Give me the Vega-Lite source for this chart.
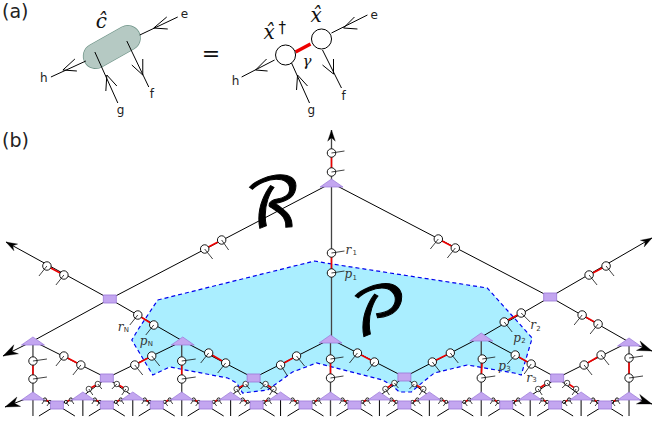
{"$schema":"https://vega.github.io/schema/vega-lite/v6.json","width":653,"height":426,"padding":0,"autosize":{"type":"fit","contains":"padding"},"background":"white","config":{"axis":{"disable":true},"view":{"stroke":null}},
"datasets":{
"region":[{"i":1,"x":158,"y":300},{"i":2,"x":315,"y":261},{"i":3,"x":326,"y":263},{"i":4,"x":488,"y":288},{"i":5,"x":533,"y":338},{"i":6,"x":522,"y":375},{"i":7,"x":515,"y":373},{"i":8,"x":468,"y":365},{"i":9,"x":435,"y":373},{"i":10,"x":420,"y":385},{"i":11,"x":412,"y":392},{"i":12,"x":400,"y":392},{"i":13,"x":392,"y":385},{"i":14,"x":383,"y":380},{"i":15,"x":317,"y":363},{"i":16,"x":293,"y":372},{"i":17,"x":268,"y":390},{"i":18,"x":243,"y":393},{"i":19,"x":237,"y":383},{"i":20,"x":228,"y":378},{"i":21,"x":170,"y":367},{"i":22,"x":153,"y":375},{"i":23,"x":132,"y":340},{"i":24,"x":138,"y":330},{"i":25,"x":158,"y":300}],
"block":[{"x":96,"y":56,"x2":128,"y2":38}],
"seg":[
{"x":51,"y":77,"x2":86,"y2":61,"k":"b"},{"x":63,"y":70,"x2":75,"y2":59,"k":"b"},{"x":63,"y":70,"x2":77,"y2":71,"k":"b"},
{"x":178,"y":17,"x2":140,"y2":35,"k":"b"},{"x":154,"y":28,"x2":167,"y2":17,"k":"b"},{"x":154,"y":28,"x2":168,"y2":29,"k":"b"},
{"x":118,"y":103,"x2":95,"y2":52,"k":"b"},{"x":107,"y":75,"x2":106,"y2":91,"k":"b"},{"x":107,"y":75,"x2":117,"y2":86,"k":"b"},
{"x":149,"y":87,"x2":127,"y2":41,"k":"b"},{"x":143,"y":75,"x2":132,"y2":65,"k":"b"},{"x":143,"y":75,"x2":143,"y2":59,"k":"b"},
{"x":242,"y":77,"x2":275,"y2":60,"k":"b"},{"x":256,"y":70,"x2":267,"y2":59,"k":"b"},{"x":256,"y":70,"x2":268,"y2":71,"k":"b"},
{"x":368,"y":15,"x2":332,"y2":33,"k":"b"},{"x":344,"y":28,"x2":355,"y2":17,"k":"b"},{"x":344,"y":28,"x2":358,"y2":29,"k":"b"},
{"x":310,"y":103,"x2":292,"y2":63,"k":"b"},{"x":298,"y":75,"x2":297,"y2":90,"k":"b"},{"x":298,"y":75,"x2":308,"y2":86,"k":"b"},
{"x":342,"y":88,"x2":323,"y2":50,"k":"b"},{"x":334,"y":74,"x2":323,"y2":65,"k":"b"},{"x":334,"y":74,"x2":334,"y2":59,"k":"b"},
{"x":332,"y":183,"x2":551,"y2":297,"k":"b"},{"x":332,"y":183,"x2":110,"y2":299,"k":"b"},
{"x":110,"y":299,"x2":6,"y2":242,"k":"b"},{"x":551,"y":297,"x2":653,"y2":238,"k":"b"},
{"x":110,"y":299,"x2":33,"y2":341,"k":"b"},{"x":110,"y":299,"x2":183,"y2":341,"k":"b"},{"x":551,"y":297,"x2":482,"y2":337,"k":"b"},{"x":551,"y":297,"x2":630,"y2":342,"k":"b"},
{"x":33,"y":341,"x2":3,"y2":356,"k":"b"},{"x":630,"y":342,"x2":653,"y2":351,"k":"b"},{"x":33,"y":396,"x2":5,"y2":407,"k":"b"},{"x":630,"y":396,"x2":653,"y2":404,"k":"b"},
{"x":33,"y":341,"x2":107,"y2":378,"k":"b"},{"x":183,"y":341,"x2":107,"y2":378,"k":"b"},{"x":183,"y":341,"x2":254,"y2":378,"k":"b"},{"x":331,"y":339,"x2":254,"y2":378,"k":"b"},{"x":331,"y":339,"x2":405,"y2":377,"k":"b"},{"x":482,"y":337,"x2":405,"y2":377,"k":"b"},{"x":482,"y":337,"x2":558,"y2":378,"k":"b"},{"x":630,"y":342,"x2":558,"y2":378,"k":"b"},
{"x":107,"y":378,"x2":83,"y2":396,"k":"b"},{"x":107,"y":378,"x2":133,"y2":396,"k":"b"},{"x":254,"y":378,"x2":231,"y2":396,"k":"b"},{"x":254,"y":378,"x2":281,"y2":396,"k":"b"},{"x":405,"y":377,"x2":380,"y2":396,"k":"b"},{"x":405,"y":377,"x2":430,"y2":396,"k":"b"},{"x":558,"y":378,"x2":531,"y2":396,"k":"b"},{"x":558,"y":378,"x2":582,"y2":396,"k":"b"},
{"x":33,"y":396,"x2":57,"y2":405,"k":"b"},{"x":83,"y":396,"x2":57,"y2":405,"k":"b"},{"x":83,"y":396,"x2":107,"y2":405,"k":"b"},{"x":133,"y":396,"x2":107,"y2":405,"k":"b"},{"x":133,"y":396,"x2":157,"y2":405,"k":"b"},{"x":182,"y":396,"x2":157,"y2":405,"k":"b"},{"x":182,"y":396,"x2":206,"y2":405,"k":"b"},{"x":231,"y":396,"x2":206,"y2":405,"k":"b"},{"x":231,"y":396,"x2":257,"y2":405,"k":"b"},{"x":281,"y":396,"x2":257,"y2":405,"k":"b"},{"x":281,"y":396,"x2":306,"y2":405,"k":"b"},{"x":331,"y":396,"x2":306,"y2":405,"k":"b"},{"x":331,"y":396,"x2":355,"y2":405,"k":"b"},{"x":380,"y":396,"x2":355,"y2":405,"k":"b"},{"x":380,"y":396,"x2":405,"y2":405,"k":"b"},{"x":430,"y":396,"x2":405,"y2":405,"k":"b"},{"x":430,"y":396,"x2":456,"y2":405,"k":"b"},{"x":482,"y":396,"x2":456,"y2":405,"k":"b"},{"x":482,"y":396,"x2":507,"y2":405,"k":"b"},{"x":531,"y":396,"x2":507,"y2":405,"k":"b"},{"x":531,"y":396,"x2":556,"y2":405,"k":"b"},{"x":582,"y":396,"x2":556,"y2":405,"k":"b"},{"x":582,"y":396,"x2":606,"y2":405,"k":"b"},{"x":630,"y":396,"x2":606,"y2":405,"k":"b"},
{"x":83,"y":396,"x2":83,"y2":416,"k":"b"},{"x":133,"y":396,"x2":133,"y2":416,"k":"b"},{"x":231,"y":396,"x2":231,"y2":416,"k":"b"},{"x":281,"y":396,"x2":281,"y2":416,"k":"b"},{"x":380,"y":396,"x2":380,"y2":416,"k":"b"},{"x":430,"y":396,"x2":430,"y2":416,"k":"b"},{"x":531,"y":396,"x2":531,"y2":416,"k":"b"},{"x":582,"y":396,"x2":582,"y2":416,"k":"b"},
{"x":52,"y":408,"x2":39,"y2":416,"k":"b"},{"x":62,"y":408,"x2":75,"y2":416,"k":"b"},{"x":102,"y":408,"x2":89,"y2":416,"k":"b"},{"x":112,"y":408,"x2":125,"y2":416,"k":"b"},{"x":152,"y":408,"x2":139,"y2":416,"k":"b"},{"x":162,"y":408,"x2":175,"y2":416,"k":"b"},{"x":201,"y":408,"x2":188,"y2":416,"k":"b"},{"x":211,"y":408,"x2":224,"y2":416,"k":"b"},{"x":252,"y":408,"x2":239,"y2":416,"k":"b"},{"x":262,"y":408,"x2":275,"y2":416,"k":"b"},{"x":301,"y":408,"x2":288,"y2":416,"k":"b"},{"x":311,"y":408,"x2":324,"y2":416,"k":"b"},{"x":350,"y":408,"x2":337,"y2":416,"k":"b"},{"x":360,"y":408,"x2":373,"y2":416,"k":"b"},{"x":400,"y":408,"x2":387,"y2":416,"k":"b"},{"x":410,"y":408,"x2":423,"y2":416,"k":"b"},{"x":451,"y":408,"x2":438,"y2":416,"k":"b"},{"x":461,"y":408,"x2":474,"y2":416,"k":"b"},{"x":502,"y":408,"x2":489,"y2":416,"k":"b"},{"x":512,"y":408,"x2":525,"y2":416,"k":"b"},{"x":551,"y":408,"x2":538,"y2":416,"k":"b"},{"x":561,"y":408,"x2":574,"y2":416,"k":"b"},{"x":601,"y":408,"x2":588,"y2":416,"k":"b"},{"x":611,"y":408,"x2":624,"y2":416,"k":"b"},
{"x":332,"y":183,"x2":332,"y2":130,"k":"g"},{"x":332,"y":183,"x2":332,"y2":339,"k":"g"},{"x":331,"y":339,"x2":331,"y2":416,"k":"g"},{"x":33,"y":341,"x2":33,"y2":416,"k":"g"},{"x":182,"y":341,"x2":182,"y2":416,"k":"g"},{"x":482,"y":337,"x2":482,"y2":416,"k":"g"},{"x":630,"y":342,"x2":630,"y2":416,"k":"g"},
{"x":332,"y":153,"x2":332,"y2":172,"k":"r"},{"x":332,"y":253,"x2":332,"y2":273,"k":"r"},{"x":205,"y":249,"x2":222,"y2":240,"k":"r"},{"x":439,"y":239,"x2":456,"y2":248,"k":"r"},{"x":47,"y":266,"x2":64,"y2":275,"k":"r"},{"x":607,"y":266,"x2":590,"y2":275,"k":"r"},{"x":138,"y":315,"x2":154,"y2":325,"k":"r"},{"x":522,"y":313,"x2":505,"y2":322,"k":"r"},{"x":583,"y":315,"x2":599,"y2":324,"k":"r"},
{"x":33,"y":361,"x2":33,"y2":379,"k":"r"},{"x":64,"y":356,"x2":81,"y2":365,"k":"r"},{"x":135,"y":365,"x2":152,"y2":356,"k":"r"},{"x":182,"y":361,"x2":182,"y2":379,"k":"r"},{"x":209,"y":353,"x2":226,"y2":363,"k":"r"},{"x":281,"y":365,"x2":297,"y2":356,"k":"r"},{"x":331,"y":359,"x2":331,"y2":378,"k":"r"},{"x":358,"y":353,"x2":375,"y2":362,"k":"r"},{"x":433,"y":362,"x2":451,"y2":353,"k":"r"},{"x":483,"y":359,"x2":482,"y2":378,"k":"r"},{"x":516,"y":355,"x2":532,"y2":364,"k":"r"},{"x":585,"y":365,"x2":602,"y2":355,"k":"r"},{"x":630,"y":358,"x2":630,"y2":378,"k":"r"},
{"x":98,"y":384,"x2":89,"y2":389,"k":"r"},{"x":117,"y":384,"x2":126,"y2":389,"k":"r"},{"x":246,"y":384,"x2":237,"y2":389,"k":"r"},{"x":266,"y":384,"x2":274,"y2":389,"k":"r"},{"x":395,"y":383,"x2":386,"y2":389,"k":"r"},{"x":415,"y":384,"x2":424,"y2":389,"k":"r"},{"x":548,"y":383,"x2":539,"y2":389,"k":"r"},{"x":568,"y":383,"x2":577,"y2":389,"k":"r"},
{"x":45,"y":399.5,"x2":50,"y2":402,"k":"r"},{"x":71,"y":399.5,"x2":66,"y2":402,"k":"r"},{"x":95,"y":399.5,"x2":100,"y2":402,"k":"r"},{"x":121,"y":399.5,"x2":116,"y2":402,"k":"r"},{"x":145,"y":399.5,"x2":150,"y2":402,"k":"r"},{"x":170,"y":399.5,"x2":165,"y2":402,"k":"r"},{"x":194,"y":399.5,"x2":199,"y2":402,"k":"r"},{"x":219,"y":399.5,"x2":214,"y2":402,"k":"r"},{"x":243,"y":399.5,"x2":248,"y2":402,"k":"r"},{"x":269,"y":399.5,"x2":264,"y2":402,"k":"r"},{"x":293,"y":399.5,"x2":298,"y2":402,"k":"r"},{"x":319,"y":399.5,"x2":314,"y2":402,"k":"r"},{"x":343,"y":399.5,"x2":348,"y2":402,"k":"r"},{"x":368,"y":399.5,"x2":363,"y2":402,"k":"r"},{"x":392,"y":399.5,"x2":397,"y2":402,"k":"r"},{"x":418,"y":399.5,"x2":413,"y2":402,"k":"r"},{"x":442,"y":399.5,"x2":447,"y2":402,"k":"r"},{"x":470,"y":399.5,"x2":465,"y2":402,"k":"r"},{"x":494,"y":399.5,"x2":499,"y2":402,"k":"r"},{"x":519,"y":399.5,"x2":514,"y2":402,"k":"r"},{"x":543,"y":399.5,"x2":548,"y2":402,"k":"r"},{"x":570,"y":399.5,"x2":565,"y2":402,"k":"r"},{"x":594,"y":399.5,"x2":599,"y2":402,"k":"r"},{"x":618,"y":399.5,"x2":613,"y2":402,"k":"r"},
{"x":296,"y":52,"x2":311,"y2":44,"k":"R"}
],
"nodes":[
{"x":286,"y":55,"x2":286,"y2":55,"s":"E"},{"x":322,"y":39,"x2":322,"y2":39,"s":"E"},
{"x":332,"y":153,"x2":345,"y2":151,"s":"A"},{"x":332,"y":172,"x2":345,"y2":170,"s":"A"},{"x":332,"y":253,"x2":345,"y2":251,"s":"A"},{"x":332,"y":273,"x2":345,"y2":271,"s":"A"},{"x":205,"y":249,"x2":213,"y2":259,"s":"A"},{"x":222,"y":240,"x2":229,"y2":250,"s":"A"},{"x":439,"y":239,"x2":431,"y2":249,"s":"A"},{"x":456,"y":248,"x2":448,"y2":258,"s":"A"},{"x":47,"y":266,"x2":39,"y2":276,"s":"A"},{"x":64,"y":275,"x2":56,"y2":285,"s":"A"},{"x":607,"y":266,"x2":615,"y2":276,"s":"A"},{"x":590,"y":275,"x2":598,"y2":285,"s":"A"},{"x":138,"y":315,"x2":130,"y2":325,"s":"A"},{"x":154,"y":325,"x2":146,"y2":335,"s":"A"},{"x":522,"y":313,"x2":531,"y2":322,"s":"A"},{"x":505,"y":322,"x2":513,"y2":332,"s":"A"},{"x":583,"y":315,"x2":575,"y2":325,"s":"A"},{"x":599,"y":324,"x2":591,"y2":334,"s":"A"},
{"x":33,"y":361,"x2":47,"y2":359,"s":"B"},{"x":33,"y":379,"x2":47,"y2":377,"s":"B"},{"x":64,"y":356,"x2":56,"y2":366,"s":"B"},{"x":81,"y":365,"x2":73,"y2":375,"s":"B"},{"x":135,"y":365,"x2":143,"y2":375,"s":"B"},{"x":152,"y":356,"x2":160,"y2":366,"s":"B"},{"x":182,"y":361,"x2":196,"y2":359,"s":"B"},{"x":182,"y":379,"x2":196,"y2":377,"s":"B"},{"x":209,"y":353,"x2":201,"y2":363,"s":"B"},{"x":226,"y":363,"x2":218,"y2":373,"s":"B"},{"x":281,"y":365,"x2":288,"y2":376,"s":"B"},{"x":297,"y":356,"x2":305,"y2":366,"s":"B"},{"x":331,"y":359,"x2":344,"y2":357,"s":"B"},{"x":331,"y":378,"x2":344,"y2":376,"s":"B"},{"x":358,"y":353,"x2":350,"y2":363,"s":"B"},{"x":375,"y":362,"x2":368,"y2":371,"s":"B"},{"x":433,"y":362,"x2":441,"y2":372,"s":"B"},{"x":451,"y":353,"x2":459,"y2":363,"s":"B"},{"x":483,"y":359,"x2":496,"y2":357,"s":"B"},{"x":482,"y":378,"x2":496,"y2":376,"s":"B"},{"x":516,"y":355,"x2":508,"y2":364,"s":"B"},{"x":532,"y":364,"x2":525,"y2":374,"s":"B"},{"x":585,"y":365,"x2":593,"y2":375,"s":"B"},{"x":602,"y":355,"x2":610,"y2":365,"s":"B"},{"x":630,"y":358,"x2":644,"y2":356,"s":"B"},{"x":630,"y":378,"x2":644,"y2":376,"s":"B"},
{"x":98,"y":384,"x2":102,"y2":389,"s":"C"},{"x":89,"y":389,"x2":93,"y2":395,"s":"C"},{"x":117,"y":384,"x2":112,"y2":389,"s":"C"},{"x":126,"y":389,"x2":122,"y2":395,"s":"C"},{"x":246,"y":384,"x2":250,"y2":389,"s":"C"},{"x":237,"y":389,"x2":241,"y2":395,"s":"C"},{"x":266,"y":384,"x2":261,"y2":389,"s":"C"},{"x":274,"y":389,"x2":270,"y2":395,"s":"C"},{"x":395,"y":383,"x2":399,"y2":388,"s":"C"},{"x":386,"y":389,"x2":390,"y2":395,"s":"C"},{"x":415,"y":384,"x2":410,"y2":389,"s":"C"},{"x":424,"y":389,"x2":420,"y2":395,"s":"C"},{"x":548,"y":383,"x2":552,"y2":388,"s":"C"},{"x":539,"y":389,"x2":543,"y2":395,"s":"C"},{"x":568,"y":383,"x2":563,"y2":388,"s":"C"},{"x":577,"y":389,"x2":573,"y2":395,"s":"C"},
{"x":45,"y":399.5,"x2":42,"y2":404,"s":"D"},{"x":50,"y":402,"x2":47,"y2":406,"s":"D"},{"x":71,"y":399.5,"x2":74,"y2":404,"s":"D"},{"x":66,"y":402,"x2":69,"y2":406,"s":"D"},{"x":95,"y":399.5,"x2":92,"y2":404,"s":"D"},{"x":100,"y":402,"x2":97,"y2":406,"s":"D"},{"x":121,"y":399.5,"x2":124,"y2":404,"s":"D"},{"x":116,"y":402,"x2":119,"y2":406,"s":"D"},{"x":145,"y":399.5,"x2":142,"y2":404,"s":"D"},{"x":150,"y":402,"x2":147,"y2":406,"s":"D"},{"x":170,"y":399.5,"x2":173,"y2":404,"s":"D"},{"x":165,"y":402,"x2":168,"y2":406,"s":"D"},{"x":194,"y":399.5,"x2":191,"y2":404,"s":"D"},{"x":199,"y":402,"x2":196,"y2":406,"s":"D"},{"x":219,"y":399.5,"x2":222,"y2":404,"s":"D"},{"x":214,"y":402,"x2":217,"y2":406,"s":"D"},{"x":243,"y":399.5,"x2":240,"y2":404,"s":"D"},{"x":248,"y":402,"x2":245,"y2":406,"s":"D"},{"x":269,"y":399.5,"x2":272,"y2":404,"s":"D"},{"x":264,"y":402,"x2":267,"y2":406,"s":"D"},{"x":293,"y":399.5,"x2":290,"y2":404,"s":"D"},{"x":298,"y":402,"x2":295,"y2":406,"s":"D"},{"x":319,"y":399.5,"x2":322,"y2":404,"s":"D"},{"x":314,"y":402,"x2":317,"y2":406,"s":"D"},{"x":343,"y":399.5,"x2":340,"y2":404,"s":"D"},{"x":348,"y":402,"x2":345,"y2":406,"s":"D"},{"x":368,"y":399.5,"x2":371,"y2":404,"s":"D"},{"x":363,"y":402,"x2":366,"y2":406,"s":"D"},{"x":392,"y":399.5,"x2":389,"y2":404,"s":"D"},{"x":397,"y":402,"x2":394,"y2":406,"s":"D"},{"x":418,"y":399.5,"x2":421,"y2":404,"s":"D"},{"x":413,"y":402,"x2":416,"y2":406,"s":"D"},{"x":442,"y":399.5,"x2":439,"y2":404,"s":"D"},{"x":447,"y":402,"x2":444,"y2":406,"s":"D"},{"x":470,"y":399.5,"x2":473,"y2":404,"s":"D"},{"x":465,"y":402,"x2":468,"y2":406,"s":"D"},{"x":494,"y":399.5,"x2":491,"y2":404,"s":"D"},{"x":499,"y":402,"x2":496,"y2":406,"s":"D"},{"x":519,"y":399.5,"x2":522,"y2":404,"s":"D"},{"x":514,"y":402,"x2":517,"y2":406,"s":"D"},{"x":543,"y":399.5,"x2":540,"y2":404,"s":"D"},{"x":548,"y":402,"x2":545,"y2":406,"s":"D"},{"x":570,"y":399.5,"x2":573,"y2":404,"s":"D"},{"x":565,"y":402,"x2":568,"y2":406,"s":"D"},{"x":594,"y":399.5,"x2":591,"y2":404,"s":"D"},{"x":599,"y":402,"x2":596,"y2":406,"s":"D"},{"x":618,"y":399.5,"x2":621,"y2":404,"s":"D"},{"x":613,"y":402,"x2":616,"y2":406,"s":"D"}
],
"tri":[{"x":332,"y":183},{"x":33,"y":341},{"x":183,"y":341},{"x":331,"y":339},{"x":482,"y":337},{"x":630,"y":342},{"x":33,"y":396},{"x":83,"y":396},{"x":133,"y":396},{"x":182,"y":396},{"x":231,"y":396},{"x":281,"y":396},{"x":331,"y":396},{"x":380,"y":396},{"x":430,"y":396},{"x":482,"y":396},{"x":531,"y":396},{"x":582,"y":396},{"x":630,"y":396}],
"sq":[{"x":110,"y":299},{"x":551,"y":297},{"x":107,"y":378},{"x":254,"y":378},{"x":405,"y":377},{"x":558,"y":378},{"x":57,"y":405},{"x":107,"y":405},{"x":157,"y":405},{"x":206,"y":405},{"x":257,"y":405},{"x":306,"y":405},{"x":355,"y":405},{"x":405,"y":405},{"x":456,"y":405},{"x":507,"y":405},{"x":556,"y":405},{"x":606,"y":405}],
"arrows":[{"x":332,"y":130,"heading":0,"big":false},{"x":6,"y":242,"heading":299,"big":false},{"x":653,"y":238,"heading":60,"big":false},{"x":3,"y":356,"heading":243,"big":true},{"x":653,"y":351,"heading":111,"big":true},{"x":5,"y":407,"heading":249,"big":true},{"x":653,"y":404,"heading":109,"big":true}],
"text":[
{"x":2,"y":12,"t":"(a)","g":"title"},{"x":2,"y":141,"t":"(b)","g":"title"},
{"x":40,"y":78,"t":"h","g":"abc"},{"x":181,"y":14,"t":"e","g":"abc"},{"x":117,"y":110,"t":"g","g":"abc"},{"x":150,"y":94,"t":"f","g":"abc"},
{"x":232,"y":81,"t":"h","g":"abc"},{"x":371,"y":15,"t":"e","g":"abc"},{"x":308,"y":110,"t":"g","g":"abc"},{"x":342,"y":96,"t":"f","g":"abc"},
{"x":202,"y":54,"t":"=","g":"eq"},
{"x":96,"y":22,"t":"ĉ","g":"hat"},{"x":264,"y":33,"t":"x̂","g":"hat"},{"x":279,"y":28,"t":"†","g":"dag"},{"x":311,"y":16,"t":"x̂","g":"hat"},{"x":303,"y":61,"t":"γ","g":"hat2"},
{"x":273,"y":207,"t":"ℛ","g":"big"},{"x":379,"y":315,"t":"𝒫","g":"big"},
{"x":346,"y":250,"t":"r","g":"lab"},{"x":353,"y":253,"t":"1","g":"sub"},{"x":345,"y":274,"t":"p","g":"lab"},{"x":353,"y":278,"t":"1","g":"sub"},
{"x":118,"y":327,"t":"r","g":"lab"},{"x":124,"y":330,"t":"N","g":"sub"},{"x":140,"y":341,"t":"p","g":"lab"},{"x":148,"y":344,"t":"N","g":"sub"},
{"x":531,"y":325,"t":"r","g":"lab"},{"x":537,"y":329,"t":"2","g":"sub"},{"x":514,"y":338,"t":"p","g":"lab"},{"x":522,"y":341,"t":"2","g":"sub"},
{"x":499,"y":366,"t":"p","g":"lab"},{"x":507,"y":369,"t":"3","g":"sub"},{"x":527,"y":378,"t":"r","g":"lab"},{"x":533,"y":380,"t":"3","g":"sub"}
]
},
"encoding":{"x":{"field":"x","type":"quantitative","scale":{"domain":[0,653],"nice":false,"zero":false}},"y":{"field":"y","type":"quantitative","scale":{"domain":[0,426],"reverse":true,"nice":false,"zero":false}}},
"layer":[
{"data":{"name":"region"},"mark":{"type":"line","fill":"#aaeeff","stroke":"#0000ee","strokeWidth":1.2,"strokeDash":[4,3],"opacity":1},"encoding":{"order":{"field":"i","type":"quantitative"}}},
{"data":{"name":"block"},"mark":{"type":"rule","stroke":"#6f9488","strokeWidth":26,"strokeCap":"round"},"encoding":{"x2":{"field":"x2"},"y2":{"field":"y2"}}},
{"data":{"name":"block"},"mark":{"type":"rule","stroke":"#b5c9c3","strokeWidth":24.6,"strokeCap":"round"},"encoding":{"x2":{"field":"x2"},"y2":{"field":"y2"}}},
{"data":{"name":"seg"},"transform":[{"filter":"datum.k=='b'"}],"mark":{"type":"rule","stroke":"#000000","strokeWidth":1},"encoding":{"x2":{"field":"x2"},"y2":{"field":"y2"}}},
{"data":{"name":"seg"},"transform":[{"filter":"datum.k=='g'"}],"mark":{"type":"rule","stroke":"#444444","strokeWidth":1.3},"encoding":{"x2":{"field":"x2"},"y2":{"field":"y2"}}},
{"data":{"name":"seg"},"transform":[{"filter":"datum.k=='r'"}],"mark":{"type":"rule","stroke":"#ee0000","strokeWidth":1.6},"encoding":{"x2":{"field":"x2"},"y2":{"field":"y2"}}},
{"data":{"name":"seg"},"transform":[{"filter":"datum.k=='R'"}],"mark":{"type":"rule","stroke":"#ee0000","strokeWidth":3.5},"encoding":{"x2":{"field":"x2"},"y2":{"field":"y2"}}},
{"data":{"name":"nodes"},"transform":[{"filter":"datum.s=='E'"}],"mark":{"type":"point","shape":"circle","filled":true,"fill":"white","stroke":"black","strokeWidth":1,"size":402,"opacity":1}},
{"data":{"name":"nodes"},"transform":[{"filter":"datum.s=='A'"}],"mark":{"type":"point","shape":"circle","filled":true,"fill":"white","stroke":"black","strokeWidth":0.9,"size":72,"opacity":1}},
{"data":{"name":"nodes"},"transform":[{"filter":"datum.s=='B'"}],"mark":{"type":"point","shape":"circle","filled":true,"fill":"white","stroke":"black","strokeWidth":0.9,"size":70,"opacity":1}},
{"data":{"name":"nodes"},"transform":[{"filter":"datum.s=='C'"}],"mark":{"type":"point","shape":"circle","filled":true,"fill":"white","stroke":"black","strokeWidth":0.7,"size":30,"opacity":1}},
{"data":{"name":"nodes"},"transform":[{"filter":"datum.s=='D'"}],"mark":{"type":"point","shape":"circle","filled":true,"fill":"white","stroke":"black","strokeWidth":0.9,"size":10,"opacity":1}},
{"data":{"name":"nodes"},"transform":[{"filter":"datum.s!='E'"}],"mark":{"type":"rule","stroke":"#111111","strokeWidth":0.8},"encoding":{"x2":{"field":"x2"},"y2":{"field":"y2"}}},
{"data":{"name":"tri"},"mark":{"type":"point","shape":"M-1,0.35L0,-0.35L1,0.35Z","filled":true,"fill":"#c3a6f0","stroke":"#9a77d8","strokeWidth":0.7,"size":529,"opacity":1}},
{"data":{"name":"sq"},"mark":{"type":"point","shape":"M-1,-0.62H1V0.62H-1Z","filled":true,"fill":"#c3a6f0","stroke":"#9a77d8","strokeWidth":0.8,"size":169,"opacity":1}},
{"data":{"name":"arrows"},"transform":[{"filter":"!datum.big"}],"mark":{"type":"point","shape":"M0,0L0.55,1.6L0,1.1L-0.55,1.6Z","filled":true,"fill":"black","stroke":"black","strokeWidth":0.3,"size":196,"opacity":1},"encoding":{"angle":{"field":"heading","type":"quantitative","scale":null}}},
{"data":{"name":"arrows"},"transform":[{"filter":"datum.big"}],"mark":{"type":"point","shape":"M0,0L0.55,1.6L0,1.1L-0.55,1.6Z","filled":true,"fill":"black","stroke":"black","strokeWidth":0.3,"size":340,"opacity":1},"encoding":{"angle":{"field":"heading","type":"quantitative","scale":null}}},
{"data":{"name":"text"},"transform":[{"filter":"datum.g=='title'"}],"mark":{"type":"text","align":"left","baseline":"middle","font":"DejaVu Sans","fontSize":19,"fill":"#222222"},"encoding":{"text":{"field":"t"}}},
{"data":{"name":"text"},"transform":[{"filter":"datum.g=='abc'"}],"mark":{"type":"text","align":"left","baseline":"middle","font":"DejaVu Sans","fontSize":12,"fill":"#222222"},"encoding":{"text":{"field":"t"}}},
{"data":{"name":"text"},"transform":[{"filter":"datum.g=='eq'"}],"mark":{"type":"text","align":"left","baseline":"middle","font":"DejaVu Sans","fontSize":22,"fill":"#111111"},"encoding":{"text":{"field":"t"}}},
{"data":{"name":"text"},"transform":[{"filter":"datum.g=='hat'"}],"mark":{"type":"text","align":"left","baseline":"middle","font":"DejaVu Serif","fontStyle":"italic","fontSize":20,"fill":"#111111"},"encoding":{"text":{"field":"t"}}},
{"data":{"name":"text"},"transform":[{"filter":"datum.g=='hat2'"}],"mark":{"type":"text","align":"left","baseline":"middle","font":"DejaVu Serif","fontStyle":"italic","fontSize":15,"fill":"#111111"},"encoding":{"text":{"field":"t"}}},
{"data":{"name":"text"},"transform":[{"filter":"datum.g=='dag'"}],"mark":{"type":"text","align":"left","baseline":"middle","font":"DejaVu Sans","fontSize":15,"fill":"#111111"},"encoding":{"text":{"field":"t"}}},
{"data":{"name":"text"},"transform":[{"filter":"datum.g=='big'"}],"mark":{"type":"text","align":"center","baseline":"middle","font":"DejaVu Math TeX Gyre","fontSize":68,"fill":"#000000","stroke":"#000000","strokeWidth":1},"encoding":{"text":{"field":"t"}}},
{"data":{"name":"text"},"transform":[{"filter":"datum.g=='lab'"}],"mark":{"type":"text","align":"left","baseline":"middle","font":"DejaVu Serif","fontStyle":"italic","fontSize":12,"fill":"#333333"},"encoding":{"text":{"field":"t"}}},
{"data":{"name":"text"},"transform":[{"filter":"datum.g=='sub'"}],"mark":{"type":"text","align":"left","baseline":"middle","font":"DejaVu Sans","fontSize":7,"fill":"#333333"},"encoding":{"text":{"field":"t"}}}
]}
